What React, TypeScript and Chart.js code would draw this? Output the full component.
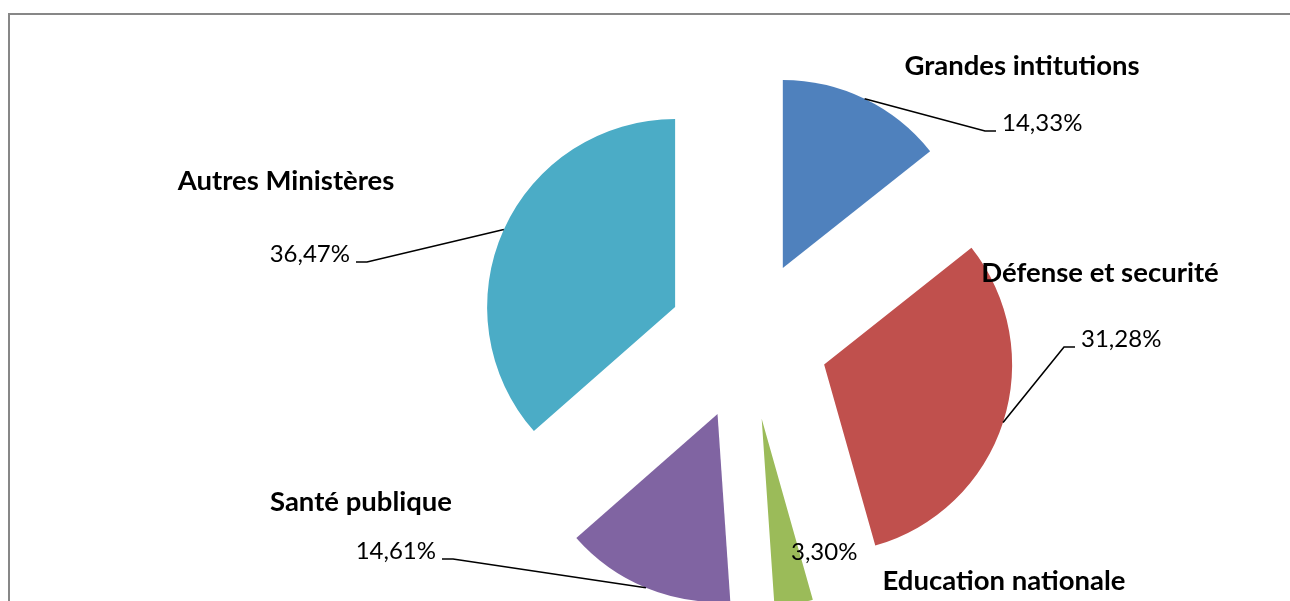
import React, { useEffect, useRef } from "react";
import { Chart, registerables } from "chart.js";

Chart.register(...registerables);

const categories = [
  "Grandes intitutions",
  "Défense et securité",
  "Education nationale",
  "Santé publique",
  "Autres Ministères",
];
const values = [14.33, 31.28, 3.3, 14.61, 36.47];
const valueLabels = ["14,33%", "31,28%", "3,30%", "14,61%", "36,47%"];
const colors = ["#4F81BD", "#C0504D", "#9BBB59", "#8064A2", "#4BACC6"];

const EXPLODE = 80;

// Label layout relative to the pie centre: leader elbow, stub direction, category name anchor
const elbows: (number[] | null)[] = [[237, -209], [316, 7], null, [-295, 219], [-381, -78]];
const stubDir = [1, 1, 0, -1, -1];
const freeValuePos = [[43, 220], [0, 0], [43, 220], [0, 0], [0, 0]];
const namePos = [[274, -265], [352, -58], [256, 250], [-387, 171], [-462, -150]];

// Exploded slices: every arc is pushed out along its mid-angle by the same distance
const explodePlugin = {
  id: "explodeSlices",
  beforeDatasetsDraw(chart: any) {
    const meta = chart.getDatasetMeta(0);
    meta.data.forEach((arc: any) => {
      if (arc.__exploded) return;
      const orig = arc.draw.bind(arc);
      arc.draw = (ctx: CanvasRenderingContext2D) => {
        const mid = (arc.startAngle + arc.endAngle) / 2;
        ctx.save();
        ctx.translate(Math.cos(mid) * EXPLODE, Math.sin(mid) * EXPLODE);
        orig(ctx);
        ctx.restore();
      };
      arc.__exploded = true;
    });
  },
};

const labelPlugin = {
  id: "pieLabels",
  afterDatasetsDraw(chart: any) {
    const ctx = chart.ctx as CanvasRenderingContext2D;
    const meta = chart.getDatasetMeta(0);
    const ca = chart.chartArea;
    const cx = (ca.left + ca.right) / 2;
    const cy = (ca.top + ca.bottom) / 2;
    ctx.save();
    meta.data.forEach((arc: any, i: number) => {
      const p = arc.getProps(["x", "y", "startAngle", "endAngle", "outerRadius"], true);
      const mid = (p.startAngle + p.endAngle) / 2;
      const sx = p.x + Math.cos(mid) * (p.outerRadius + EXPLODE);
      const sy = p.y + Math.sin(mid) * (p.outerRadius + EXPLODE);
      ctx.fillStyle = "#000";
      ctx.textBaseline = "alphabetic";
      ctx.font = "24px Lato";
      const e = elbows[i];
      if (e) {
        const ex = cx + e[0];
        const ey = cy + e[1];
        const stubEnd = ex + stubDir[i] * 11;
        ctx.strokeStyle = "#000";
        ctx.lineWidth = 1.6;
        ctx.beginPath();
        ctx.moveTo(sx, sy);
        ctx.lineTo(ex, ey);
        ctx.lineTo(stubEnd, ey);
        ctx.stroke();
        ctx.textAlign = stubDir[i] > 0 ? "left" : "right";
        ctx.fillText(valueLabels[i], stubEnd + stubDir[i] * 6, ey);
      } else {
        ctx.textAlign = "left";
        ctx.fillText(valueLabels[i], cx + freeValuePos[i][0], cy + freeValuePos[i][1]);
      }
      ctx.font = "bold 27.5px Lato";
      ctx.textAlign = "center";
      ctx.fillText(categories[i], cx + namePos[i][0], cy + namePos[i][1]);
    });
    ctx.restore();
  },
};

export default function App() {
  const canvasRef = useRef<HTMLCanvasElement | null>(null);

  useEffect(() => {
    if (!canvasRef.current) return;
    const chart = new Chart(canvasRef.current, {
      type: "pie",
      data: {
        labels: categories,
        datasets: [
          {
            data: values,
            backgroundColor: colors,
            borderWidth: 0,
            offset: 0,
            clip: false,
          } as any,
        ],
      },
      options: {
        animation: false,
        responsive: true,
        maintainAspectRatio: false,
        radius: 188,
        layout: { padding: { left: 206, top: 79, right: 0, bottom: 0 } },
        plugins: {
          legend: { display: false },
          tooltip: { enabled: false },
        },
      } as any,
      plugins: [explodePlugin, labelPlugin],
    });
    return () => chart.destroy();
  }, []);

  return (
    <div
      style={{
        position: "fixed",
        left: 0,
        top: 0,
        width: 1290,
        height: 601,
        overflow: "hidden",
        background: "#fff",
      }}
    >
      <div
        style={{
          position: "absolute",
          left: 8,
          top: 13,
          width: 1400,
          height: 800,
          border: "2px solid #878787",
          boxSizing: "border-box",
        }}
      />
      <div style={{ position: "absolute", left: 0, top: 0, width: 1290, height: 601 }}>
        <canvas ref={canvasRef} />
      </div>
    </div>
  );
}
